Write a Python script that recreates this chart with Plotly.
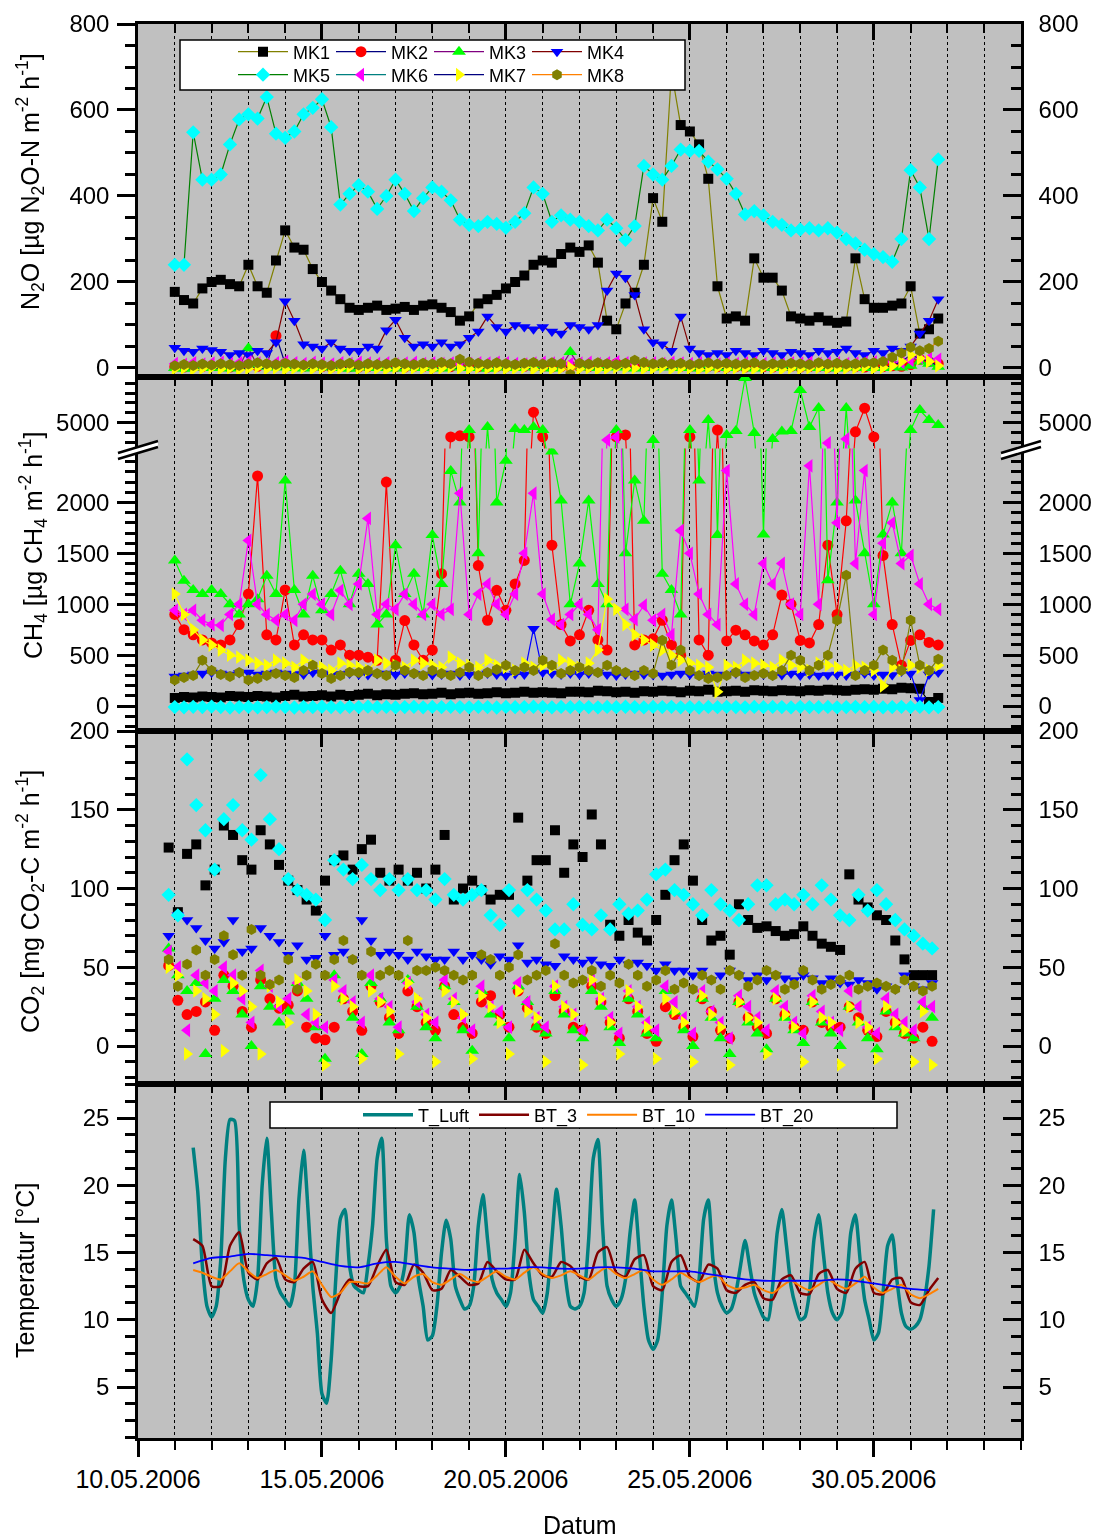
import plotly.graph_objects as go
import pandas as pd

# ---------------- data ----------------
MK_NAMES = ["MK1", "MK2", "MK3", "MK4", "MK5", "MK6", "MK7", "MK8"]

# N2O [ug N2O-N m-2 h-1], 6-hourly from 11.05.2006 00:00
N2O_MK1 = [177,158,150,185, 200,205,195,190, 240,190,175,250, 320,280,275,230, 200,180,160,140,
           135,140,145,135, 138,142,135,145, 148,140,130,110, 120,150,160,170, 185,200,215,240,
           250,245,265,280, 270,285,245,110, 90,150,175,240, 395,340,690,565, 550,520,440,190,
           115,120,110,255, 210,210,180,120, 115,110,118,110, 105,108,255,160, 140,140,145,150,
           190,80,90,115]
N2O_MK2 = [3,2,4,3, 5,3,2,4, 6,4,8,75, 10,5,4,3, 3,2,4,3, 2,3,5,4, 3,2,4,3, 2,4,3,5, 4,3,2,4,
           3,5,4,3, 4,2,3,5, 4,3,6,8, 10,6,4,3, 5,8,6,4, 3,2,4,3, 2,3,2,4, 3,2,3,4, 2,3,4,2,
           3,4,3,2, 4,3,5,4, 8,20,15,10]
N2O_MK3 = [0,-2,2,1, 0,3,-1,2, 46,5,3,1, 2,0,-1,2, 1,3,0,-2, 2,1,0,3, -1,2,1,0, 2,-1,1,3,
           0,2,-2,1, 3,0,1,2, 1,-1,2,37, 3,1,0,2, 1,2,-1,0, 2,1,3,0, 1,-1,2,1, 0,2,1,-1,
           2,0,1,3, 1,2,0,1, -1,1,2,0, 1,0,2,1, 5,15,10,3]
N2O_MK4 = [47,40,38,45, 42,38,30,35, 30,40,35,60, 155,110,55,50, 45,60,45,40, 40,50,45,88,
           112,70,50,55, 50,60,50,55, 70,85,120,95, 85,100,95,90, 95,85,80,100, 95,90,100,180,
           220,210,170,90, 60,55,40,120, 45,35,30,35, 30,40,35,30, 40,35,30,38, 35,30,40,35,
           38,45,35,30, 40,35,45,40, 50,80,110,160]
N2O_MK5 = [240,240,548,438, 438,450,520,578, 590,580,630,545, 535,550,590,605, 625,560,380,405,
           425,410,370,400, 438,405,365,395, 420,410,390,345, 333,330,340,335, 326,340,360,420,
           405,340,355,345, 340,330,320,345, 325,298,330,470, 450,438,470,508, 505,505,480,462,
           440,405,357,365, 355,340,333,320, 322,325,320,325, 315,300,290,275, 265,258,247,300,
           460,420,300,485]
N2O_MK6 = [10,8,12,9, 11,13,10,12, 14,11,9,12, 15,12,10,13, 11,9,12,10, 13,11,10,12, 9,11,13,10,
           12,10,11,9, 10,12,11,13, 12,10,9,11, 13,11,12,10, 11,13,10,12, 14,12,10,11, 12,10,13,11,
           10,12,11,9, 11,10,12,13, 10,11,9,12, 11,13,10,12, 12,10,11,13, 14,12,15,13, 18,25,22,20]
N2O_MK7 = [-2,0,-3,-1, 1,-2,0,-4, -1,2,-2,0, -3,-1,1,-2, 0,-3,-1,2, -2,0,-1,-3, 1,-2,0,-1,
           -3,0,2,-1, -2,1,-1,0, -2,-1,1,-3, 0,-2,-1,1, -2,0,-3,-1, 1,-1,0,-2, -1,2,-2,0,
           -1,-3,0,1, -2,0,-1,-2, 1,-1,-3,0, -2,0,1,-1, -2,-1,0,2, -1,1,5,15, 30,22,15,5]
N2O_MK8 = [5,8,6,9, 7,10,8,6, 9,12,10,8, 11,9,7,10, 8,6,9,11, 7,10,8,9, 12,10,8,11, 9,13,10,20,
           14,11,9,12, 10,8,11,13, 9,12,10,-15, 11,9,12,10, 8,11,18,13, 10,12,9,11, 8,10,12,9,
           11,9,10,12, 8,10,9,11, 10,8,12,9, 11,9,10,13, 12,15,25,35, 48,40,45,62]

# CH4 [ug CH4 m-2 h-1], 6-hourly from 11.05.2006 00:00
CH4_MK1 = [80,90,85,95, 90,85,100,95, 90,100,95,85, 100,110,95,100, 105,95,110,100, 110,120,105,115,
           110,120,125,115, 120,130,115,125, 130,120,125,135, 125,130,140,130, 135,130,125,140,
           140,135,150,145, 135,140,130,145, 140,150,145,135, 150,145,160,140, 145,150,140,155,
           150,145,155,150, 145,155,150,160, 155,150,160,165, 160,170,165,180, 175,170,40,80]
CH4_MK2 = [900,750,700,650, 620,600,650,800, 1100,2260,700,650, 1140,600,700,650, 650,550,600,500,
           500,480,450,2200, 450,840,600,450, 550,1300,4650,4680, 4650,1380,843,1137, 940,1200,1430,5270,
           4650,1580,800,640, 700,940,650,550, 4650,4700,600,650, 660,843,600,500, 4650,650,500,4825,
           640,745,700,640, 600,700,1090,1000, 645,620,800,1580, 900,1820,4780,5370, 4650,1480,800,400,
           645,700,625,600]
CH4_MK3 = [1430,1230,1140,1100, 1140,1100,1000,900, 1000,1050,1280,1100, 2215,1140,900,1280,
           940,1100,1330,1000, 1300,1200,800,900, 1580,1100,1300,900, 1680,1200,2310,2000,
           4825,1500,4900,2000, 2410,4850,4825,4900, 4825,2500,2020,1000, 1400,2020,1200,1000,
           4825,1500,2215,1820, 4575,1300,1140,900, 4825,2215,5075,1680, 4700,4800,6125,4750,
           1686,4600,4790,4800, 5825,4900,5375,1235, 2000,5375,2020,1500, 1000,1686,2000,1500,
           4825,5325,5075,4950]
CH4_MK4 = [290,300,310,320, 330,320,310,325, 330,310,320,330, 320,315,310,330, 320,310,315,320,
           310,305,315,320, 310,320,315,310, 305,310,320,300, 310,305,320,310, 300,315,310,760,
           330,320,310,320, 310,320,330,310, 300,310,320,310, 305,300,310,320, 310,300,320,310,
           305,320,310,300, 310,300,305,320, 300,310,300,305, 310,300,310,320, 300,310,305,340,
           320,60,310,330]
CH4_MK5 = [-10,-12,-8,-10, -5,-10,-15,-10, -8,-12,-10,-6, -10,-14,-9,-11, -7,-10,-12,-8,
           -10,-6,-11,-9, -13,-10,-8,-12, -9,-11,-7,-10, -12,-8,-10,-14, -9,-11,-10,-7,
           -10,-13,-9,-11, -8,-10,-12,-9, -11,-7,-10,-13, -9,-10,-8,-12, -10,-14,-9,-11,
           -8,-10,-12,-9, -11,-9,-10,-13, -8,-10,-11,-9, -12,-10,-8,-11, -9,-13,-10,-8,
           -11,-9,-12,-10]
CH4_MK6 = [940,900,940,843, 800,794,900,1000, 1627,1000,900,843, 900,843,1000,1100, 1000,900,1137,1000,
           1200,1843,900,1000, 950,1100,1000,900, 1000,900,950,2090, 900,1100,1200,1000, 900,1100,1500,2090,
           1100,850,800,900, 1000,900,750,4575, 4650,950,850,990, 843,900,700,1725, 1500,1100,900,800,
           2313,1200,1000,900, 1400,1200,1400,1000, 900,2360,1000,4500, 1800,4600,1400,2313,
           900,1600,1800,1400, 1480,1200,1000,950]
CH4_MK7 = [1100,900,750,650, 600,550,500,480, 450,420,400,450, 420,380,450,400, 380,350,420,400,
           380,350,450,420, 400,380,450,420, 400,380,480,420, 400,380,450,400, 380,350,420,380,
           400,380,450,420, 380,420,550,1050, 950,800,700,650, 600,550,500,450, 420,400,380,140,
           400,380,450,420, 400,380,450,400, 380,350,420,400, 380,350,400,380, 350,200,380,350,
           400,380,350,400]
CH4_MK8 = [255,280,300,450, 350,310,290,330, 255,270,300,320, 300,280,350,400, 320,270,300,333,
           330,350,320,300, 400,350,320,300, 350,320,300,330, 380,300,330,360, 400,350,380,350,
           450,400,320,350, 380,350,330,400, 350,330,300,350, 320,647,400,550, 350,300,270,280,
           300,330,280,300, 320,300,350,500, 450,350,400,500, 843,1284,300,350, 400,550,450,350,
           843,400,350,460]

# CO2 [mg CO2-C m-2 h-1], 6-hourly from 10.05.2006 20:00
CO2_MK1 = [126,85,122,128, 102,112,140,134, 118,112,137,128, 115,105,99,93, 86,105,118,121,
           112,125,131,110, 105,112,105,110, 100,112,134,93, 100,105,99,93, 96,96,145,105,
           118,118,137,110, 128,120,147,128, 77,70,80,72, 67,80,96,118, 128,105,80,67,
           70,58,90,80, 75,76,73,70, 71,76,70,65, 63,61,109,93, 88,83,80,67, 55,45,45,45]
CO2_MK2 = [51,29,20,22, 28,10,45,38, 22,12,42,30, 24,26,35,12, 5,4,12,30, 22,10,38,28,
           18,8,35,25, 15,10,38,20, 12,8,28,32, 20,12,35,24, 12,8,32,22, 12,10,38,28,
           15,5,30,22, 8,3,25,20, 12,6,30,22, 10,5,28,18, 12,8,30,20, 12,10,28,15,
           12,12,25,18, 10,6,22,15, 8,5,12,3]
CO2_MK3 = [62,45,35,40, -5,30,42,35, 20,0,38,25, 15,22,40,30, 12,-8,45,30, 18,-5,40,30,
           15,10,42,25, 12,5,38,28, 10,-3,35,20, 15,5,38,28, 12,8,35,20, 10,5,35,25,
           12,2,30,20, 8,5,35,22, 10,0,30,18, 5,-5,28,15, 8,-2,30,18, 10,2,28,15,
           8,0,25,15, 5,-2,22,12, 8,5,25,18]
CO2_MK4 = [70,83,80,75, 67,62,66,80, 60,62,75,70, 66,58,64,55, 56,70,58,60, 55,80,67,58,
           60,58,55,60, 57,55,55,60, 55,58,55,52, 57,55,64,53, 55,52,51,57, 55,53,55,52,
           51,55,52,53, 51,48,52,48, 48,45,48,42, 45,48,45,42, 45,42,45,43, 42,45,43,40,
           43,40,39,42, 40,36,38,36, 45,38,36,40]
CO2_MK5 = [96,83,182,153, 137,112,144,153, 137,131,172,144, 125,106,99,96, 93,80,118,112,
           106,115,106,99, 106,99,106,99, 99,93,106,96, 93,96,99,83, 77,99,86,99,
           93,86,74,74, 90,77,74,83, 74,90,84,86, 93,109,112,99, 96,90,83,99,
           90,86,80,90, 102,102,90,93, 90,96,90,102, 93,83,80,96, 86,99,90,80, 74,70,65,62]
CO2_MK6 = [60,50,10,45, 40,35,50,45, 30,15,48,38, 25,30,40,20, 15,12,42,35, 28,15,45,30,
           25,12,40,28, 20,15,42,30, 18,10,38,25, 22,12,40,28, 18,12,38,25, 20,10,42,30,
           18,8,35,25, 15,10,38,28, 18,8,35,22, 15,5,32,25, 18,10,35,25, 15,8,32,22,
           15,10,35,25, 12,8,30,20, 15,10,28,25]
CO2_MK7 = [50,45,-5,35, 30,20,-3,40, 35,25,-5,38, 28,15,42,35, 20,-12,38,30, 25,-8,35,28,
           22,-5,40,30, 18,-10,35,28, 20,-8,32,25, 15,-5,35,22, 18,-10,38,25, 20,-12,42,30,
           15,-5,35,25, 12,-8,30,22, 15,-10,32,20, 12,-12,28,18, 15,-5,30,20, 12,-10,28,18,
           15,-12,25,15, 12,-8,25,15, 10,-10,22,-12]
CO2_MK8 = [55,38,52,61, 45,55,70,58, 45,74,45,39, 42,55,36,45, 52,45,55,67, 55,45,60,45,
           48,45,67,48, 48,50,48,45, 42,45,58,55, 45,50,58,42, 45,48,65,45, 40,42,48,38,
           45,40,52,45, 38,42,48,36, 40,36,45,42, 36,48,45,38, 42,48,45,36, 39,48,42,36,
           39,42,45,36, 38,40,38,36, 42,38,35,38]

# Temperatures [degC]
T_LUFT = [22.8,19.5,14.0,11.0,
          10.2,11.0,14.5,22.0,24.9,24.8,17.0,13.0,
          11.5,11.0,13.0,20.0,23.5,18.0,13.0,12.0,
          11.5,11.0,12.5,19.0,22.6,18.0,12.5,9.0,
          4.5,3.8,7.0,13.0,17.5,18.2,14.0,12.5,
          12.2,12.0,14.0,17.0,22.0,23.5,16.0,12.5,
          12.0,12.5,14.0,17.8,16.5,13.0,11.0,8.5,
          8.8,11.0,15.0,17.4,16.0,12.5,11.5,10.8,
          11.0,12.5,17.0,19.3,16.0,13.0,12.0,11.5,
          11.0,12.0,16.0,20.8,18.0,13.5,11.5,11.0,
          10.5,12.0,16.0,19.7,17.0,13.0,11.0,10.8,
          11.0,12.0,16.0,22.0,23.4,17.0,12.5,11.5,
          11.0,11.5,13.0,16.5,18.9,15.0,11.0,8.5,
          7.8,8.5,12.0,17.0,18.9,16.0,12.5,12.0,
          11.5,11.0,13.0,17.5,18.9,14.5,12.0,11.0,
          10.5,10.8,12.0,14.0,15.9,14.0,12.0,11.0,
          10.2,10.0,12.5,16.5,18.2,15.5,12.5,11.0,
          10.0,10.2,12.0,16.0,17.8,15.0,12.0,10.5,
          10.0,10.5,12.5,16.5,17.8,14.5,11.5,10.0,
          8.5,9.0,12.0,15.5,16.3,13.0,10.5,9.5,
          9.3,9.5,10.0,11.5,14.0,18.2]
BT_3 = [16.0,15.5, 12.5,12.5,15.5,16.5, 13.5,13.0,14.2,14.6, 13.0,12.8,13.8,14.3,
        11.5,10.5,12.0,13.0, 12.5,12.5,14.0,15.2, 12.8,12.6,14.1,13.5, 12.2,12.3,13.7,13.2,
        12.6,12.7,14.3,13.6, 13.0,13.0,15.2,14.2, 13.3,13.2,14.3,14.0, 13.2,13.0,15.0,15.4,
        13.5,13.2,14.5,14.8, 12.5,12.2,14.3,14.8, 13.2,12.8,14.1,13.8, 12.2,12.0,12.6,12.8,
        11.6,11.5,13.0,13.3, 12.0,11.9,13.4,13.7, 12.3,12.0,13.8,14.3, 12.0,11.9,13.0,13.1,
        11.3,11.1,12.2,13.1]
BT_10 = [13.7,13.5, 13.2,13.0,13.6,14.2, 13.6,13.1,13.4,13.7, 13.3,12.9,13.2,13.6,
         12.6,11.7,12.0,12.8, 12.8,12.7,13.3,13.9, 13.2,12.7,13.2,13.4, 12.8,12.6,13.0,13.4,
         13.0,12.8,13.2,13.6, 13.2,13.0,13.5,13.9, 13.4,13.1,13.3,13.6, 13.3,13.0,13.5,13.9,
         13.4,13.1,13.4,13.7, 13.0,12.6,13.0,13.5, 13.1,12.8,13.1,13.3, 12.6,12.3,12.4,12.6,
         12.2,12.0,12.5,12.9, 12.5,12.2,12.6,13.0, 12.6,12.3,12.7,13.2, 12.4,12.0,12.3,12.6,
         11.9,11.6,11.9,12.3]
BT_20 = [14.2,14.6,14.7,14.9,14.8,14.7,14.6,14.3,14.0,13.9,14.2,14.3,14.1,13.9,13.8,13.7,
         13.8,13.8,13.9,13.9,13.8,13.8,13.9,13.9,13.8,13.6,13.6,13.6,13.4,13.2,13.0,12.9,
         12.9,12.9,12.9,13.0,12.9,12.7,12.5,12.3,12.2]

t_n2o = pd.date_range("2006-05-11 00:00", periods=len(N2O_MK1), freq="6h")
t_ch4 = pd.date_range("2006-05-11 00:00", periods=len(CH4_MK1), freq="6h")
t_co2 = pd.date_range("2006-05-10 20:00", periods=len(CO2_MK1), freq="6h")
t_air = pd.date_range("2006-05-11 12:00", periods=len(T_LUFT), freq="3h")
t_soil = pd.date_range("2006-05-11 12:00", periods=len(BT_3), freq="6h")
t_bt20 = pd.date_range("2006-05-11 12:00", periods=len(BT_20), freq="12h")

# ---------------- styling ----------------
FONT = "Liberation Sans"
W, H = 1104, 1540
ML, MR, MT, MB = 138, 83, 24, 102
PW = W - ML - MR
PH = H - MT - MB


def PX(px):
    return (px - ML) / PW


def PY(py):
    return (H - MB - py) / PH


MARKER_COLORS = ["#000000", "#FF0000", "#00FF00", "#0000FF", "#00FFFF", "#FF00FF", "#FFFF00", "#808000"]
LINE_COLORS = ["#808000", "#000080", "#800080", "#800000", "#008000", "#008080", "#000080", "#FF8000"]
SYMBOLS = ["square", "circle", "triangle-up", "triangle-down", "diamond", "triangle-left", "triangle-right", "hexagon"]
SIZES = [10, 11, 12, 11, 11, 12, 12, 11]

fig = go.Figure()

n2o = [N2O_MK1, N2O_MK2, N2O_MK3, N2O_MK4, N2O_MK5, N2O_MK6, N2O_MK7, N2O_MK8]
ch4 = [CH4_MK1, CH4_MK2, CH4_MK3, CH4_MK4, CH4_MK5, CH4_MK6, CH4_MK7, CH4_MK8]
co2 = [CO2_MK1, CO2_MK2, CO2_MK3, CO2_MK4, CO2_MK5, CO2_MK6, CO2_MK7, CO2_MK8]

for k in range(8):
    mk = dict(symbol=SYMBOLS[k], size=SIZES[k], color=MARKER_COLORS[k], line=dict(width=0))
    fig.add_trace(go.Scatter(x=t_n2o, y=n2o[k], mode="lines+markers", name=MK_NAMES[k],
                             line=dict(color=LINE_COLORS[k], width=1.2), marker=mk,
                             xaxis="x", yaxis="y", legend="legend" if k < 4 else "legend3"))
for yax in ["y2", "y3"]:
    for k in range(8):
        mk = dict(symbol=SYMBOLS[k], size=SIZES[k], color=MARKER_COLORS[k], line=dict(width=0))
        fig.add_trace(go.Scatter(x=t_ch4, y=ch4[k], mode="lines+markers", name=MK_NAMES[k],
                                 line=dict(color=MARKER_COLORS[k], width=1.2), marker=mk,
                                 xaxis="x2", yaxis=yax, showlegend=False))
for k in range(8):
    mk = dict(symbol=SYMBOLS[k], size=SIZES[k], color=MARKER_COLORS[k], line=dict(width=0))
    fig.add_trace(go.Scatter(x=t_co2, y=co2[k], mode="markers", name=MK_NAMES[k], marker=mk,
                             xaxis="x3", yaxis="y4", showlegend=False))

temps = [("T_Luft", t_air, T_LUFT, "#008080", 3.5),
         ("BT_3", t_soil, BT_3, "#800000", 2.5),
         ("BT_10", t_soil, BT_10, "#FF8000", 2.0),
         ("BT_20", t_bt20, BT_20, "#0000FF", 1.8)]
for name, tt, vals, col, wd in temps:
    fig.add_trace(go.Scatter(x=tt, y=vals, mode="lines", name=name,
                             line=dict(color=col, width=wd, shape="spline", smoothing=0.6),
                             xaxis="x4", yaxis="y5", legend="legend2"))

# transparent copies so the mirrored (right / top) axes have a subplot of their own
ghost = [("x", "y6", t_n2o, N2O_MK1), ("x2", "y7", t_ch4, CH4_MK1), ("x2", "y8", t_ch4, CH4_MK1),
         ("x3", "y9", t_co2, CO2_MK1), ("x4", "y10", t_air, T_LUFT),
         ("x5", "y", t_n2o, N2O_MK1), ("x6", "y2", t_ch4, CH4_MK1),
         ("x7", "y4", t_co2, CO2_MK1), ("x8", "y5", t_air, T_LUFT)]
for xa, ya, tt, vals in ghost:
    fig.add_trace(go.Scatter(x=tt, y=vals, mode="markers", opacity=0, hoverinfo="skip",
                             showlegend=False, xaxis=xa, yaxis=ya, marker=dict(size=1)))

# ---------------- axes ----------------
DAY = 86400000
XR = ["2006-05-10", "2006-06-03"]
TICKFONT = dict(family=FONT, size=24, color="black")
XTICKFONT = dict(family=FONT, size=25, color="black")


def xbase(anchor, labels=False, ticks=""):
    return dict(type="date", range=XR, anchor=anchor, domain=[0, 1], automargin=False,
                tick0="2006-05-10", dtick=5 * DAY, tickformat="%d.%m.%Y",
                ticks=ticks, ticklen=16, tickwidth=2.5, tickcolor="black",
                showticklabels=labels, tickfont=XTICKFONT, ticklabelstandoff=1,
                showline=True, linewidth=2.5, linecolor="black",
                showgrid=True, gridcolor="black", gridwidth=1, griddash="dot",
                minor=dict(dtick=DAY, ticks=ticks, ticklen=9, tickwidth=2, tickcolor="black",
                           showgrid=True, gridcolor="black", gridwidth=1, griddash="dot"),
                zeroline=False)


def xtop(over, anchor):
    return dict(type="date", range=XR, overlaying=over, anchor=anchor, side="top",
                automargin=False,
                tick0="2006-05-10", dtick=5 * DAY, ticks="inside", ticklen=16, tickwidth=2.5,
                tickcolor="black", showticklabels=False, showline=True, linewidth=2.5,
                linecolor="black", showgrid=False, zeroline=False,
                minor=dict(dtick=DAY, ticks="inside", ticklen=9, tickwidth=2, tickcolor="black",
                           showgrid=False))


def ybase(domain, rng, anchor, tickvals, minor_tick0, minor_dtick, side="left", over=None):
    d = dict(range=rng, anchor=anchor, tickmode="array", tickvals=tickvals, automargin=False,
             ticks="outside" if side == "left" else "inside", ticklen=18, tickwidth=2.5,
             tickcolor="black", tickfont=TICKFONT, side=side,
             ticklabelstandoff=3 if side == "left" else 10,
             showline=True, linewidth=2.5, linecolor="black", showgrid=False, zeroline=False,
             minor=dict(tickmode="linear", tick0=minor_tick0, dtick=minor_dtick,
                        ticks="outside" if side == "left" else "inside", ticklen=10,
                        tickwidth=2.5, tickcolor="black", showgrid=False))
    if over:
        d["overlaying"] = over
    else:
        d["domain"] = domain
    return d


D1 = [PY(377), 1.0]
D2u = [PY(449.5), PY(377)]
D2l = [PY(731), PY(448.5)]
D3 = [PY(1084), PY(731)]
D4 = [0.0, PY(1084)]

R1 = [-21, 800]
R2u = [4337, 6150]
R2l = [-245, 2530]
R3 = [-24.1, 200]
R4 = [1.21, 27.53]

T1 = [0, 200, 400, 600, 800]
T2u = [5000]
T2l = [0, 500, 1000, 1500, 2000]
T3 = [0, 50, 100, 150, 200]
T4 = [5, 10, 15, 20, 25]

fig.update_layout(
    xaxis=xbase("y"),
    xaxis2=xbase("y3"),
    xaxis3=xbase("y4"),
    xaxis4=xbase("y5", labels=True, ticks="outside"),
    xaxis5=xtop("x", "y"),
    xaxis6=xtop("x2", "y2"),
    xaxis7=xtop("x3", "y4"),
    xaxis8=xtop("x4", "y5"),
    yaxis=ybase(D1, R1, "x", T1, 0, 50),
    yaxis2=ybase(D2u, R2u, "x2", T2u, 5000, 250),
    yaxis3=ybase(D2l, R2l, "x2", T2l, 0, 100),
    yaxis4=ybase(D3, R3, "x3", T3, 0, 10),
    yaxis5=ybase(D4, R4, "x4", T4, 0, 1.25),
    yaxis6=ybase(None, R1, "x", T1, 0, 50, side="right", over="y"),
    yaxis7=ybase(None, R2u, "x2", T2u, 5000, 250, side="right", over="y2"),
    yaxis8=ybase(None, R2l, "x2", T2l, 0, 100, side="right", over="y3"),
    yaxis9=ybase(None, R3, "x3", T3, 0, 10, side="right", over="y4"),
    yaxis10=ybase(None, R4, "x4", T4, 0, 1.25, side="right", over="y5"),
)

LEGFONT = dict(family=FONT, size=18, color="black")
fig.update_layout(
    legend=dict(x=PX(233), y=PY(52), xanchor="left", yanchor="middle", orientation="h",
                itemwidth=50, entrywidth=33, entrywidthmode="pixels", bgcolor="rgba(0,0,0,0)",
                borderwidth=0, font=LEGFONT, traceorder="normal"),
    legend3=dict(x=PX(233), y=PY(75), xanchor="left", yanchor="middle", orientation="h",
                 itemwidth=50, entrywidth=33, entrywidthmode="pixels", bgcolor="rgba(0,0,0,0)",
                 borderwidth=0, font=LEGFONT, traceorder="normal"),
    legend2=dict(x=PX(358), y=PY(1115), xanchor="left", yanchor="middle", orientation="h",
                 itemwidth=50, bgcolor="rgba(0,0,0,0)", borderwidth=0, font=LEGFONT,
                 traceorder="normal"),
)

# legend frames
shapes = [
    dict(type="rect", xref="paper", yref="paper", x0=PX(180), x1=PX(685), y0=PY(90), y1=PY(40),
         fillcolor="white", line=dict(color="black", width=1.5), layer="above"),
    dict(type="rect", xref="paper", yref="paper", x0=PX(270), x1=PX(897), y0=PY(1128), y1=PY(1102),
         fillcolor="white", line=dict(color="black", width=1.5), layer="above"),
]
# axis-break marks on both sides of the CH4 panel
for ax in (138, 1021):
    xa, xb = ax - 20, ax + 20
    fill = "M{},{} L{},{} L{},{} L{},{} Z".format(PX(xa), PY(453), PX(xb), PY(441),
                                                  PX(xb), PY(447), PX(xa), PY(459))
    shapes.append(dict(type="path", xref="paper", yref="paper", path=fill,
                       fillcolor="white", line=dict(width=0), layer="above"))
    for off in (0, 6):
        shapes.append(dict(type="line", xref="paper", yref="paper",
                           x0=PX(xa), y0=PY(453 + off), x1=PX(xb), y1=PY(441 + off),
                           line=dict(color="black", width=2.5), layer="above"))
fig.update_layout(shapes=shapes)

TITLEFONT = dict(family=FONT, size=25, color="black")
ann = [
    dict(text="N<sub>2</sub>O [µg N<sub>2</sub>O-N m<sup>-2</sup> h<sup>-1</sup>]", x=PX(30), y=PY(182)),
    dict(text="CH<sub>4</sub> [µg CH<sub>4</sub> m<sup>-2</sup> h<sup>-1</sup>]", x=PX(33), y=PY(545)),
    dict(text="CO<sub>2</sub> [mg CO<sub>2</sub>-C m<sup>-2</sup> h<sup>-1</sup>]", x=PX(30), y=PY(902)),
    dict(text="Temperatur [°C]", x=PX(25), y=PY(1270)),
]
annotations = []
for a in ann:
    annotations.append(dict(text=a["text"], x=a["x"], y=a["y"], xref="paper", yref="paper",
                            textangle=-90, showarrow=False, xanchor="center", yanchor="middle",
                            font=TITLEFONT))
annotations.append(dict(text="Datum", x=PX(580), y=PY(1525), xref="paper", yref="paper",
                        showarrow=False, xanchor="center", yanchor="middle", font=TITLEFONT))

fig.update_layout(
    annotations=annotations,
    width=W, height=H, autosize=False,
    margin=dict(l=ML, r=MR, t=MT, b=MB, pad=0, autoexpand=False),
    paper_bgcolor="white", plot_bgcolor="#C0C0C0",
    font=dict(family=FONT, color="black"),
    showlegend=True,
)

fig.write_html("out.html")
